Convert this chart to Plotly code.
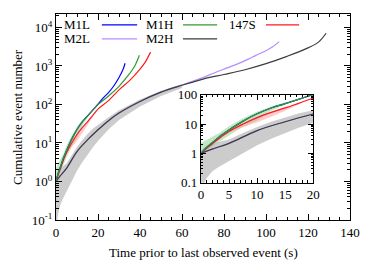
import plotly.graph_objects as go

# ---------------- data ----------------
t_m1l = [0, 1, 2, 3.5, 5, 7.5, 10, 12.5, 15, 17.5, 20, 22.5, 25, 27.5, 30, 32, 32.9]
n_m1l = [1, 1.6, 2.3, 4, 6.3, 12.6, 22.4, 35.5, 50, 71, 102, 148, 204, 302, 500, 832, 1175]

t_m1h = [0, 1, 2, 3.5, 5, 7.5, 10, 12.5, 15, 17.5, 20, 25, 30, 35, 37.5, 39.7]
n_m1h = [1, 1.6, 2.3, 4, 6.3, 12.6, 22.4, 35.5, 50, 71, 100, 166, 295, 630, 1000, 1900]

t_147s = [0, 1, 2, 3.5, 5, 7.5, 10, 12.5, 15, 17.5, 20, 25, 30, 35, 40, 42.5, 45]
n_147s = [1, 1.5, 2.1, 3.5, 5.6, 10, 16.6, 25, 35.5, 52, 76, 126, 240, 417, 830, 1260, 2290]

t_m2l = [0, 2, 5, 10, 15, 20, 25, 30, 40, 50, 60, 65, 70, 75, 80, 85, 90, 95, 100, 103, 106.3]
n_m2l = [1, 1.4, 2.2, 6, 12, 22, 38, 60, 120, 210, 320, 400, 500, 650, 830, 1050, 1380, 1860, 2500, 3100, 4300]

t_m2h = [0, 2, 5, 10, 15, 20, 25, 30, 40, 50, 60, 70, 80, 90, 100, 110, 120, 125, 128.6]
n_m2h = [1, 1.4, 2.2, 6, 12, 22, 38, 60, 120, 210, 316, 457, 600, 800, 1150, 1780, 2950, 4170, 7080]

# uncertainty bands
t_band_m2 = [0, 0.5, 1, 2, 3, 5, 7.5, 10, 12.5, 15, 17.5, 20, 25, 30, 40, 50, 60]
lo_band_m2 = [0.01, 0.089, 0.141, 0.24, 0.331, 0.55, 1.05, 1.9, 3.16, 5.0, 7.6, 11.2, 22.4, 39.8, 89, 166, 269]
hi_band_m2 = [1.2, 1.51, 1.78, 2.0, 2.4, 2.95, 5.0, 7.9, 12, 17, 23.4, 29.5, 46.8, 70.8, 135, 229, 339]

t_band_m1 = [0, 1, 2, 3.5, 5, 7.5, 10, 12.5, 15]
lo_band_m1 = [1, 1.32, 1.78, 2.82, 4.27, 8.3, 13.2, 28.2, 45.7]
hi_band_m1 = [2.24, 2.82, 3.55, 5.25, 8.5, 15.8, 26.3, 39.8, 55]

t_band_147 = [5, 7.5, 10, 12.5, 15, 17.5]
lo_band_147 = [5.25, 7.6, 11.5, 17.8, 28.2, 47.9]
hi_band_147 = [5.9, 10.5, 17.4, 26.3, 37.2, 53.7]

names = ["M1L", "M1H", "147S", "M2L", "M2H"]
colors = {"M1L": "#0000ff", "M1H": "#2e9a2e", "147S": "#ff1a1a", "M2L": "#b58cff", "M2H": "#3c3c3c"}

main_yticks = [0.1, 1, 10, 100, 1000, 10000]
main_yticktext = ["10<sup>-1</sup>", "10<sup>0</sup>", "10<sup>1</sup>", "10<sup>2</sup>", "10<sup>3</sup>", "10<sup>4</sup>"]
inset_yticks = [0.1, 1, 10, 100]
inset_yticktext = ["0.1", "1", "10", "100"]

x_title = "Time prior to last observed event (s)"
y_title = "Cumulative event number"

FONT = "'Liberation Serif', 'Times New Roman', 'DejaVu Serif', serif"

fig = go.Figure()

def band(t, lo, hi, color, xa, ya):
    fig.add_trace(go.Scatter(
        x=list(t) + list(t)[::-1], y=list(lo) + list(hi)[::-1],
        fill="toself", fillcolor=color, line=dict(width=0),
        mode="lines", hoverinfo="skip", showlegend=False, xaxis=xa, yaxis=ya))

def line(t, n, name, xa, ya):
    fig.add_trace(go.Scatter(
        x=t, y=n, mode="lines", line=dict(color=colors[name], width=1.2, shape="spline", smoothing=1.0),
        name=name, showlegend=False, xaxis=xa, yaxis=ya))

for xa, ya in [("x", "y"), ("x2", "y2")]:
    band(t_band_m2, lo_band_m2, hi_band_m2, "rgba(185,185,185,0.72)", xa, ya)
    band(t_band_m1, lo_band_m1, hi_band_m1, "rgba(120,200,120,0.45)", xa, ya)
    band(t_band_147, lo_band_147, hi_band_147, "rgba(255,150,150,0.5)", xa, ya)
    line(t_m2l, n_m2l, "M2L", xa, ya)
    line(t_m2h, n_m2h, "M2H", xa, ya)
    line(t_147s, n_147s, "147S", xa, ya)
    line(t_m1l, n_m1l, "M1L", xa, ya)
    line(t_m1h, n_m1h, "M1H", xa, ya)

axis_common = dict(showline=True, linecolor="black", linewidth=1, mirror="allticks",
                   ticks="inside", tickcolor="black", showgrid=False, zeroline=False,
                   automargin=False,
                   tickfont=dict(family=FONT, size=13, color="black"))

minor_main_y = [m * 10 ** e for e in range(-1, 5) for m in range(2, 10)]
minor_inset_y = [m * 10 ** e for e in range(-1, 2) for m in range(2, 10)]

fig.update_layout(
    width=366, height=254,
    margin=dict(l=48, r=24, t=6, b=42),
    paper_bgcolor="white", plot_bgcolor="white",
    font=dict(family=FONT, size=13, color="black"),
    xaxis=dict(axis_common, domain=[0, 1], range=[0, 140], dtick=20, tick0=0, ticklen=6,
               minor=dict(ticks="inside", ticklen=3, dtick=5, tickcolor="black")),
    yaxis=dict(axis_common, domain=[0, 1], type="log", range=[-1, 4.35], tickmode="array",
               tickvals=main_yticks, ticktext=main_yticktext, ticklen=6,
               minor=dict(ticks="inside", ticklen=3, tickmode="array", tickvals=minor_main_y, tickcolor="black")),
    xaxis2=dict(axis_common, domain=[0.493, 0.875], anchor="y2", range=[0, 20], dtick=5, tick0=0, ticklen=5,
                minor=dict(ticks="inside", ticklen=2.5, dtick=1, tickcolor="black")),
    yaxis2=dict(axis_common, domain=[0.181, 0.608], anchor="x2", type="log", range=[-1, 2], tickmode="array",
                tickvals=inset_yticks, ticktext=inset_yticktext, ticklen=5,
                minor=dict(ticks="inside", ticklen=2.5, tickmode="array", tickvals=minor_inset_y, tickcolor="black")),
)

# axis titles
fig.add_annotation(x=0.5, y=-0.160, xref="paper", yref="paper", text=x_title, showarrow=False,
                   xanchor="center", yanchor="middle", font=dict(family=FONT, size=13, color="black"))
fig.add_annotation(x=-0.133, y=0.5, xref="paper", yref="paper", text=y_title, showarrow=False,
                   textangle=-90, xanchor="center", yanchor="middle",
                   font=dict(family=FONT, size=13, color="black"))

# legend (gnuplot style: label then line sample), two rows, three columns
leg_rows = {"M1L": (0, 0), "M1H": (0, 1), "147S": (0, 2), "M2L": (1, 0), "M2H": (1, 1)}
text_x = [0.022, 0.301, 0.580]
line_x = [(0.156, 0.276), (0.432, 0.548), (0.714, 0.827)]
row_y = [0.947, 0.879]
for nm in names:
    r, c = leg_rows[nm]
    fig.add_annotation(x=text_x[c], y=row_y[r], xref="paper", yref="paper", text=nm,
                       showarrow=False, xanchor="left", yanchor="middle",
                       font=dict(family=FONT, size=13, color="black"))
    fig.add_shape(type="line", xref="paper", yref="paper", x0=line_x[c][0], x1=line_x[c][1],
                  y0=row_y[r], y1=row_y[r], line=dict(color=colors[nm], width=1.2))

fig.write_html("out.html")
